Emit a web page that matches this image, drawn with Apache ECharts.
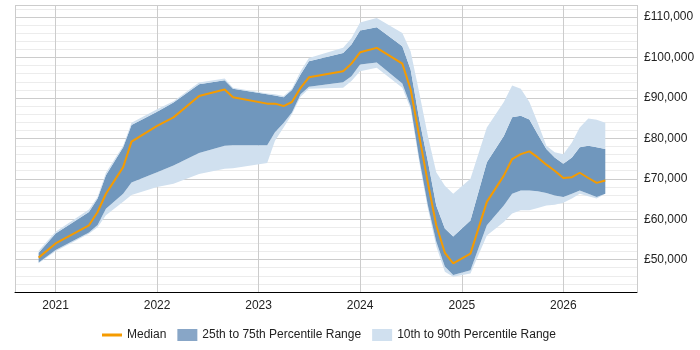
<!DOCTYPE html>
<html>
<head>
<meta charset="utf-8">
<script src="https://cdn.jsdelivr.net/npm/echarts@6/dist/echarts.min.js"></script>
<style>
  html, body { margin: 0; padding: 0; background: #fff; }
  #main { width: 700px; height: 350px; }
</style>
</head>
<body>
<div id="main"></div>
<script>
// monthly points
var months = ['2020-11','2021-01','2021-05','2021-06','2021-07','2021-09','2021-10','2022-01','2022-03','2022-06',
  '2022-09','2022-10','2023-02','2023-03','2023-04','2023-05','2023-06','2023-07','2023-11','2023-12',
  '2024-01','2024-03','2024-06','2024-07','2024-08','2024-09','2024-10','2024-11','2024-12','2025-02',
  '2025-04','2025-06','2025-07','2025-08','2025-09','2025-10','2025-11','2025-12','2026-01','2026-02',
  '2026-03','2026-04','2026-05','2026-06']
var median = [50500,54000,58500,61800,66300,72900,79200,83100,85200,90500,
  92100,90200,88600,88600,88000,89000,92500,95100,96600,98500,
  101300,102400,98500,92100,80500,69000,58500,51700,49100,51500,
  64300,70800,74900,76100,76800,75300,73500,72000,70200,70400,
  71500,70200,69000,69600]
var p75 = [51700,56500,61800,65100,70900,77800,83300,86600,88900,93400,
  94400,92300,90900,90600,90200,92000,95800,99100,101100,103200,
  106700,107500,102800,97000,84700,74300,63400,57700,55700,59700,
  74100,80600,85200,85600,84700,81000,77400,75300,73700,75300,
  77800,78200,77800,77400]
var p25 = [49300,52400,56700,58600,62600,66300,69100,71600,73300,76400,
  78200,78300,78300,81500,83800,86400,90900,92800,93900,95400,
  98300,98800,93600,88000,74900,63400,54500,48300,46200,47400,
  58500,63400,66300,67100,67100,66900,66500,65900,65500,66300,
  67100,66300,65500,66300]
var p90 = [52200,56900,62400,65500,71500,78200,83900,87200,89200,93800,
  94800,92500,91100,90900,90500,92300,96600,99900,102400,104800,
  108700,109800,106100,101500,91300,80600,71600,68300,66300,70000,
  82700,89000,93100,92300,89000,83900,78200,76600,76100,79000,
  82700,84900,84600,83900]
var p10 = [49100,52100,56400,58000,61000,64300,66000,68000,68800,71200,
  72500,72600,73900,79400,82700,86000,90300,92300,92500,94200,
  96600,97500,92500,87300,74100,62600,53300,47000,45800,46600,
  56000,59300,61400,62200,62200,62800,63400,63600,64100,65100,
  66300,65700,65100,65900]
var yLabels = [50000,60000,70000,80000,90000,100000,110000]

var myChart = echarts.init(document.getElementById('main'))

function pairs(arr) {
  return months.map(function (m, i) { return [m + '-01', arr[i]] })
}
function diff(a, b) {
  return a.map(function (v, i) { return v - b[i] })
}

var lightBlue = '#d0e0ef'
var darkBlue = '#7097bd'
var orange = '#f59b00'
var font = 'Liberation Sans, Arial, sans-serif'

var bandBase = {
  type: 'line',
  stack: 'band',
  symbol: 'none',
  silent: true,
  lineStyle: { width: 0 },
  emphasis: { disabled: true }
}

var option = {
  animation: false,
  grid: { left: 15, right: 63, top: 5, bottom: 58, outerBoundsMode: 'none' },
  legend: {
    left: 97,
    top: 324,
    itemWidth: 20,
    itemHeight: 12,
    itemGap: 11,
    textStyle: { fontFamily: font, fontSize: 12, color: '#222' },
    data: [
      { name: 'Median', icon: 'path://M0,0h20v3h-20z', itemStyle: { color: orange } },
      { name: '25th to 75th Percentile Range', icon: 'rect', itemStyle: { color: '#88a6c7' } },
      { name: '10th to 90th Percentile Range', icon: 'rect', itemStyle: { color: lightBlue } }
    ]
  },
  xAxis: {
    type: 'time',
    min: '2020-08-08',
    max: '2026-09-23',
    minInterval: 365 * 24 * 3600 * 1000,
    axisLine: { lineStyle: { color: '#000', width: 1 } },
    axisTick: { show: false },
    axisLabel: { formatter: '{yyyy}', color: '#222', fontSize: 12, fontFamily: font, margin: 8 },
    splitLine: { show: true, lineStyle: { color: '#cccccc' } }
  },
  yAxis: [
    {
      type: 'value',
      position: 'right',
      min: 42000,
      max: 113000,
      interval: 2000,
      axisLine: { show: false },
      axisTick: { show: false },
      axisLabel: {
        margin: 7,
        color: '#222',
        fontSize: 12,
        fontFamily: font,
        formatter: function (v) {
          return yLabels.indexOf(v) >= 0 ? '£' + v.toLocaleString('en-GB') : ''
        }
      },
      splitLine: { lineStyle: { color: '#ececec' } }
    },
    {
      type: 'value',
      position: 'right',
      min: 42000,
      max: 113000,
      axisLine: { show: false },
      axisTick: { show: false },
      axisLabel: { show: false },
      splitLine: { lineStyle: { color: '#cccccc' } }
    }
  ],
  series: [
    Object.assign({}, bandBase, { name: 'base', data: pairs(p10) }),
    Object.assign({}, bandBase, { name: '10th to 90th Percentile Range', data: pairs(diff(p25, p10)),
      itemStyle: { color: lightBlue }, areaStyle: { color: lightBlue, opacity: 1 } }),
    Object.assign({}, bandBase, { name: '25th to 75th Percentile Range', data: pairs(diff(p75, p25)),
      itemStyle: { color: darkBlue }, areaStyle: { color: darkBlue, opacity: 1 } }),
    Object.assign({}, bandBase, { name: '10th to 90th Percentile Range', data: pairs(diff(p90, p75)),
      itemStyle: { color: lightBlue }, areaStyle: { color: lightBlue, opacity: 1 } }),
    {
      name: 'Median',
      type: 'line',
      symbol: 'none',
      data: pairs(median),
      itemStyle: { color: orange },
      lineStyle: { color: orange, width: 2 },
      z: 5
    }
  ]
}
myChart.setOption(option)
</script>
</body>
</html>
